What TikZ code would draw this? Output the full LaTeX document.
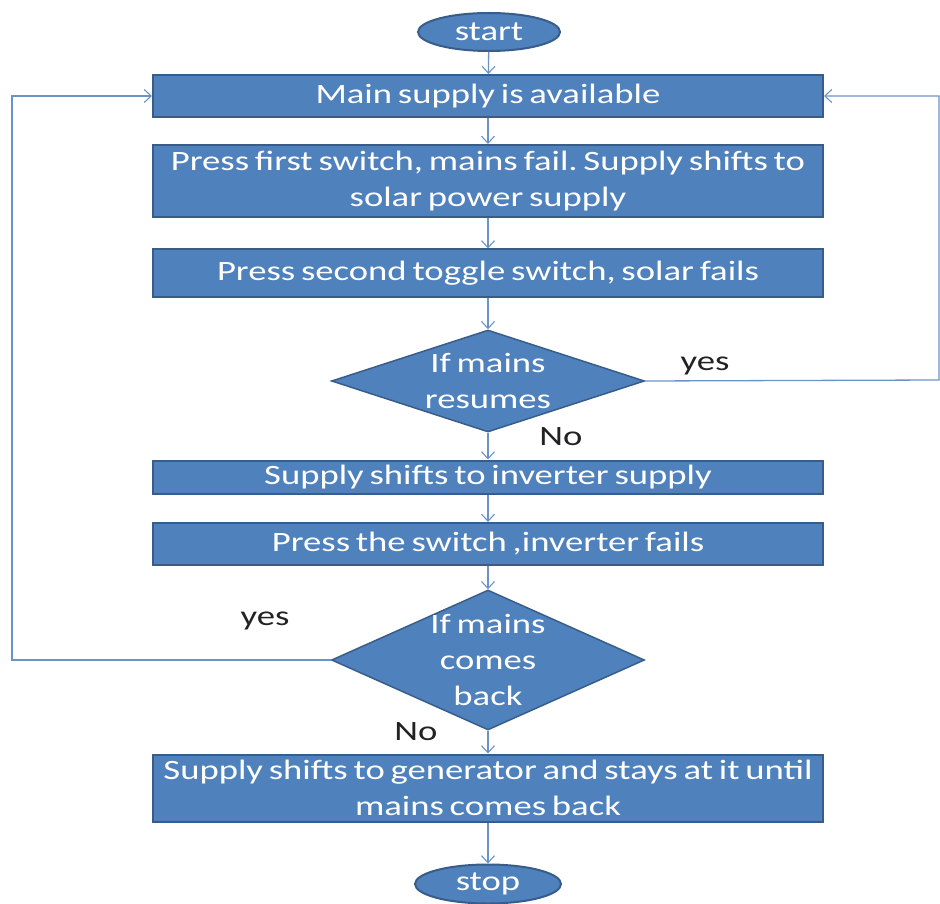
\documentclass[tikz,border=0pt]{standalone}
\usepackage{fontspec}
\setmainfont{Carlito}[FakeStretch=1.31,WordSpace=0.7]
\frenchspacing
\usetikzlibrary{shapes.geometric,arrows.meta}
\definecolor{boxfill}{HTML}{4F81BD}
\definecolor{boxline}{HTML}{385D8A}
\definecolor{connc}{HTML}{6A93C8}
\definecolor{labc}{HTML}{222222}
\begin{document}
\begin{tikzpicture}[x=1pt,y=-1pt,
  txt/.style={text=white,font=\fontsize{28}{36}\selectfont\frenchspacing,align=center,inner sep=0pt},
  base/.style={fill=boxfill,draw=boxline,line width=2pt,txt},
  procbox/.style={base,rectangle,minimum width=670pt},
  term/.style={base,ellipse,minimum width=142pt,minimum height=38pt},
  decide/.style={fill=boxfill,draw=boxline,line width=1.5pt,diamond,inner sep=0pt,minimum width=313pt},
  conn/.style={draw=connc,line width=1.3pt,-{Straight Barb[length=7pt,width=13pt,line width=1.1pt]}},
  lab/.style={text=labc,font=\fontsize{28}{30}\selectfont}]
\useasboundingbox (0,0) rectangle (940,904);
\node[term] (start) at (489,32) {start};
\node[procbox,minimum height=42pt] (main) at (488,96) {Main supply is available};
\node[procbox,minimum height=72pt] (b2) at (488,181) {Press first switch, mains fail. Supply shifts to\\solar power supply};
\node[procbox,minimum height=47pt] (b3) at (488,273) {Press second toggle switch, solar fails};
\node[decide,minimum height=102pt,label={[txt]center:If mains\\resumes}] (d1) at (488,381) {};
\node[procbox,minimum height=33pt] (b4) at (488,477) {Supply shifts to inverter supply};
\node[procbox,minimum height=42pt] (b5) at (488,544) {Press the switch ,inverter fails};
\node[decide,minimum height=140pt,label={[txt]center:If mains\\comes\\back}] (d2) at (488,660) {};
\node[procbox,minimum height=67pt] (b6) at (488,788) {Supply shifts to generator and stays at it until\\mains comes back};
\node[term,minimum width=146pt,minimum height=39pt] (stop) at (488,884) {stop};
\coordinate (R) at (939,380);
\coordinate (L) at (12,660);
\draw[conn] (start) -- (main);
\draw[conn] (main) -- (b2);
\draw[conn] (b2) -- (b3);
\draw[conn] (b3) -- (d1);
\draw[conn] (d1) -- (b4);
\draw[conn] (b4) -- (b5);
\draw[conn] (b5) -- (d2);
\draw[conn] (d2) -- (b6);
\draw[conn] (b6) -- (stop);
\draw[conn] (d1.east) -- (R) |- (main.east);
\draw[conn] (d2.west) -- (L) |- (main.west);
\node[lab] (y1) at (705,366) {yes};
\node[lab] (n1) at (561,437) {No};
\node[lab] (y2) at (265,621) {yes};
\node[lab] (n2) at (416,732) {No};
\end{tikzpicture}
\end{document}
